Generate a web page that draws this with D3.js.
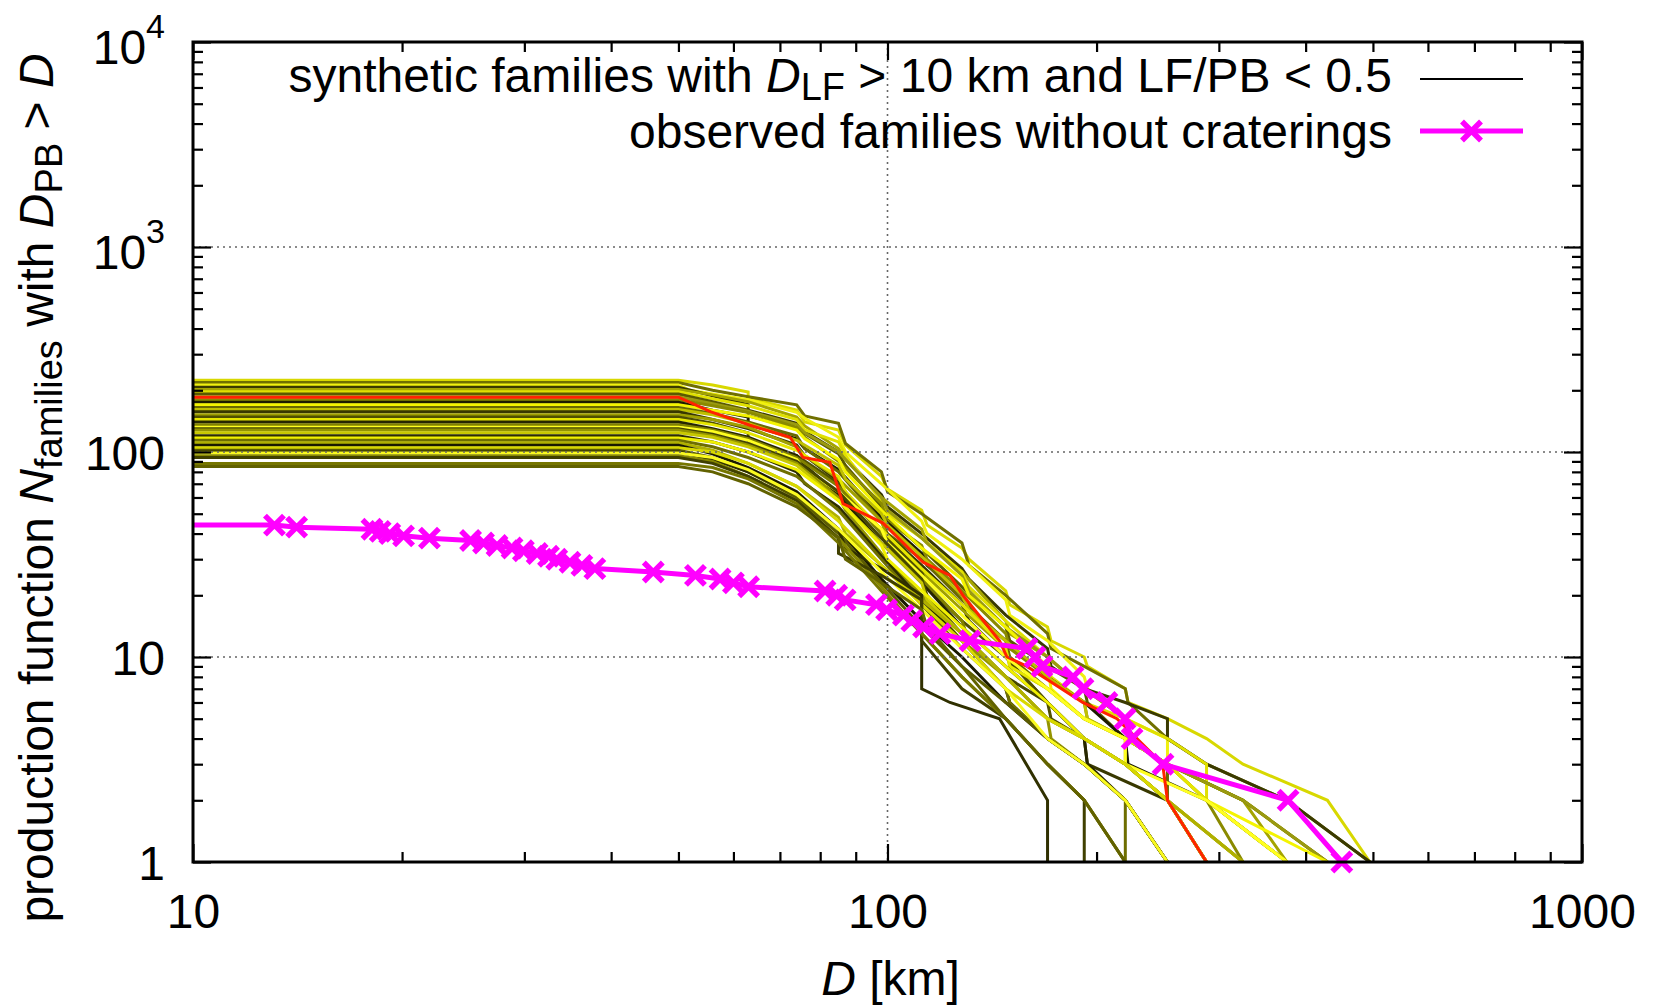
<!DOCTYPE html>
<html>
<head>
<meta charset="utf-8">
<script src="https://cdn.jsdelivr.net/npm/d3@7"></script>
<style>
body { margin: 0; background: #fff; }
text { font-family: "Liberation Sans", Arial, Helvetica, sans-serif; fill: #000; }
</style>
</head>
<body>
<svg id="chart" width="1656" height="1008"></svg>
<script>
// axis setup
const xDomain = [10, 1000];
const yDomain = [1, 10000];
const xTickValues = [10, 100, 1000];
const xTickLabels = ["10", "100", "1000"];
const yTickValues = [1, 10, 100, 1000, 10000];
const yTickLabels = [["1", ""], ["10", ""], ["100", ""], ["10", "3"], ["10", "4"]];
const xGrid = [100];
const yGrid = [10, 100, 1000];

// observed families without craterings: D_PB [km] and cumulative count
const obsD = [13.1, 14.1, 18.1, 18.6, 19.2, 20.1, 21.9, 25.1, 26.2, 27.4, 28.8, 29.9, 31.3, 32.5,
  33.4, 34.9, 36.3, 37.9, 46.0, 52.9, 57.4, 60.0, 63.1, 81.3, 84.5, 86.9, 96.4, 99.7, 105.4,
  108.4, 112.7, 119, 131.5, 158.8, 163.1, 166.9, 185, 191.2, 207, 219.8, 225, 249.3, 377.4, 451];
const obsN = [44, 43, 42, 41, 40, 39, 38, 37, 36, 35, 34, 33, 32, 31, 30, 29, 28, 27, 26, 25, 24,
  23, 22, 21, 20, 19, 18, 17, 16, 15, 14, 13, 12, 11, 10, 9, 8, 7, 6, 5, 4, 3, 2, 1];

// highlighted synthetic family (red)
const redLine = [[10, 185], [50, 185], [55.7, 157], [63.4, 135], [72.4, 118], [75.6, 94], [82.6, 89],
  [86.3, 56], [98.5, 45], [112.5, 29], [123, 25], [128.4, 20], [145, 12], [148.6, 10], [158.8, 9],
  [191, 6], [214, 5], [249, 3], [253, 2], [288, 1]];

// synthetic families with D_LF > 10 km and LF/PB < 0.5
const synthetic = [
  [[10,224],[50,224],[56,212],[63,196],[63,184],[74,160],[76,140],[85,128],[87,108],[98,76],[100,66],[112,52],[114,44],[128,34],[131,30],[148,21],[150,18],[170,14],[172,12],[192,10],[194,9],[220,7],[222,6],[253,5],[288,4],[325,3],[430,2],[495,1]],
  [[10,218],[50,218],[56,200],[63,186],[74,170],[76,150],[85,138],[87,110],[98,80],[100,64],[112,50],[128,36],[131,28],[148,20],[170,13],[172,11],[192,9],[220,7],[222,6],[253,4],[288,3],[376,2],[495,1]],
  [[10,212],[50,212],[52,200],[56,192],[63,180],[74,156],[76,146],[85,118],[87,100],[98,70],[112,46],[114,40],[128,30],[148,19],[150,16],[170,12],[192,8],[194,7],[220,5],[253,4],[253,3],[325,2],[430,1]],
  [[10,207],[50,207],[56,188],[63,170],[63,160],[74,138],[76,126],[85,100],[98,62],[100,54],[112,40],[128,27],[131,24],[148,16],[170,11],[172,9],[192,7],[220,6],[253,5],[253,4],[288,3],[376,2],[495,1]],
  [[10,202],[50,202],[56,190],[63,176],[74,148],[76,134],[85,104],[87,92],[98,60],[112,42],[114,36],[128,26],[148,15],[150,13],[170,10],[192,7],[220,5],[222,4],[253,3],[325,2],[376,1]],
  [[10,197],[50,197],[56,182],[63,168],[74,144],[76,128],[85,112],[87,96],[98,58],[100,50],[112,38],[128,26],[131,22],[148,15],[170,10],[172,8],[192,6],[220,5],[253,4],[288,3],[288,2],[376,1]],
  [[10,192],[50,192],[56,176],[63,160],[63,150],[74,130],[85,98],[87,86],[98,54],[100,48],[112,34],[128,22],[148,14],[150,12],[170,9],[192,7],[194,6],[220,4],[253,3],[325,2],[430,1]],
  [[10,186],[50,186],[56,172],[63,158],[74,136],[76,124],[85,100],[98,60],[100,52],[112,38],[128,25],[131,21],[148,14],[170,10],[192,7],[220,5],[222,4],[253,3],[325,2],[430,1]],
  [[10,180],[50,180],[56,168],[63,156],[74,132],[76,118],[85,90],[98,56],[100,46],[112,35],[114,30],[128,21],[148,13],[150,11],[170,8],[192,6],[194,5],[220,4],[253,3],[288,2],[325,1]],
  [[10,175],[50,175],[56,160],[63,148],[63,136],[74,116],[76,104],[85,82],[98,48],[112,32],[114,28],[128,20],[131,17],[148,12],[170,8],[192,6],[220,4],[222,3],[288,2],[376,1]],
  [[10,170],[50,170],[56,160],[63,150],[74,128],[76,116],[85,92],[87,80],[98,52],[112,34],[128,24],[131,20],[148,14],[170,9],[172,7],[192,5],[220,4],[253,3],[288,2],[430,1]],
  [[10,165],[50,165],[56,154],[63,140],[74,120],[76,104],[85,80],[98,46],[100,40],[112,30],[128,19],[148,12],[150,10],[170,7],[192,5],[220,4],[253,3],[253,2],[325,1]],
  [[10,161],[50,161],[56,152],[63,138],[74,114],[85,86],[87,74],[98,50],[100,44],[112,31],[128,20],[131,17],[148,12],[170,8],[192,6],[194,5],[220,4],[253,3],[288,2],[376,1]],
  [[10,157],[50,157],[56,144],[63,130],[74,108],[76,96],[85,72],[87,62],[98,42],[112,28],[128,18],[131,15],[148,10],[170,6],[192,4],[194,3],[253,2],[288,1]],
  [[10,152],[50,152],[56,144],[63,132],[74,106],[76,96],[85,74],[98,46],[100,38],[112,26],[128,17],[148,11],[150,9],[170,7],[192,5],[220,4],[220,3],[253,2],[325,1]],
  [[10,148],[50,148],[56,138],[63,124],[63,114],[74,96],[85,70],[98,40],[112,26],[114,22],[128,15],[148,10],[170,6],[172,5],[192,4],[220,3],[253,2],[288,1]],
  [[10,144],[50,144],[56,136],[63,124],[74,102],[85,76],[87,64],[98,42],[112,27],[128,18],[148,11],[150,9],[170,7],[192,5],[220,4],[253,3],[288,2],[376,1]],
  [[10,140],[50,140],[56,130],[63,118],[74,96],[76,86],[85,62],[98,36],[112,23],[128,14],[148,9],[170,6],[192,4],[194,3],[220,2],[253,1]],
  [[10,136],[50,136],[56,128],[63,116],[74,94],[85,68],[98,40],[100,34],[112,24],[128,15],[131,12],[148,8],[170,5],[192,4],[220,3],[253,2],[288,1]],
  [[10,132],[50,132],[56,126],[63,114],[74,92],[76,82],[85,64],[98,42],[100,36],[112,25],[128,16],[148,10],[170,7],[192,5],[220,4],[220,3],[288,2],[376,1]],
  [[10,130],[50,130],[56,122],[63,110],[74,90],[85,64],[98,38],[112,24],[114,20],[128,13],[148,8],[170,6],[192,4],[220,3],[253,2],[288,1]],
  [[10,128],[50,128],[56,120],[63,108],[74,88],[85,60],[87,52],[98,32],[112,20],[128,12],[148,8],[170,5],[172,4],[192,3],[220,2],[253,1]],
  [[10,124],[50,124],[56,118],[63,106],[74,86],[85,58],[98,36],[112,23],[114,19],[128,13],[148,8],[170,5],[192,4],[220,3],[253,2],[325,1]],
  [[10,120],[50,120],[56,112],[63,100],[74,80],[76,70],[85,54],[98,31],[112,19],[128,12],[148,7],[150,6],[170,4],[192,3],[220,2],[253,1]],
  [[10,117],[50,117],[56,112],[63,100],[74,82],[85,58],[98,35],[100,30],[112,21],[128,14],[148,9],[170,6],[192,4],[220,3],[253,2],[288,1]],
  [[10,114],[50,114],[56,106],[63,94],[74,76],[85,52],[98,30],[112,18],[128,11],[148,7],[150,6],[170,4],[192,3],[220,2],[220,1]],
  [[10,111],[50,111],[56,102],[63,88],[74,68],[85,48],[87,40],[98,28],[112,19],[128,13],[148,8],[170,5],[192,4],[220,3],[253,2],[325,1]],
  [[10,108],[50,108],[56,98],[63,84],[74,64],[85,42],[98,24],[112,15],[128,10],[148,6],[170,4],[192,3],[220,2],[253,1]],
  [[10,105],[50,105],[56,100],[63,88],[74,68],[85,46],[98,28],[112,18],[128,12],[148,7],[170,5],[192,4],[220,3],[253,2],[288,1]],
  [[10,102],[50,102],[56,94],[63,80],[74,60],[85,40],[98,23],[112,14],[128,9],[148,6],[170,4],[192,3],[220,2],[253,1]],
  [[10,100],[50,100],[56,92],[63,80],[74,62],[85,42],[87,34],[98,27],[112,20],[112,7],[123,6],[145,5],[170,2],[170,1]],
  [[10,99],[50,99],[56,94],[63,82],[74,62],[85,42],[98,26],[112,17],[128,11],[148,7],[170,4],[192,3],[220,2],[253,1]],
  [[10,96],[50,96],[56,90],[63,76],[74,58],[85,38],[98,22],[112,13],[128,8],[148,5],[170,3],[192,2],[220,1]],
  [[10,94],[50,94],[56,88],[63,76],[74,58],[85,38],[85,32],[98,25],[112,19],[112,12],[128,7],[148,5],[170,3],[192,2],[192,1]],
  [[10,88],[50,88],[56,84],[63,74],[74,56],[85,36],[98,21],[112,13],[128,8],[148,5],[170,3],[192,2],[220,1]],
  [[10,85],[50,85],[56,80],[63,70],[74,54],[85,38],[87,30],[98,23],[112,17],[114,14],[128,9],[148,5],[170,3],[192,2],[220,1]]
];
const synthColors = [
  "#d8d800", "#707000", "#f0f010", "#3a3a00", "#a4a400", "#e0e000", "#5a5a00", "#9a9a10",
  "#8a8a00", "#1c1c00", "#f4f400", "#6a6a00", "#c0c000", "#383800", "#a0a000", "#505000",
  "#e6e600", "#262600", "#808000", "#ffff20", "#464600", "#949400", "#c8c800", "#2e2e00",
  "#f0f000", "#6e6e00", "#b0b000", "#1a1a00", "#d8d800", "#5c5c00", "#303000", "#fafa20",
  "#888800", "#404000", "#767600", "#626200"
];

const legendLabels = ["observed families without craterings"];

// plot frame
const plotLeft = 193, plotRight = 1582, plotTop = 42, plotBottom = 862;
const fontSize = 48;
const subSize = 38;

const svg = d3.select("#chart");

const x = d3.scaleLog().domain(xDomain).range([plotLeft, plotRight]);
const y = d3.scaleLog().domain(yDomain).range([plotBottom, plotTop]);

svg.append("defs").append("clipPath").attr("id", "plotClip")
  .append("rect")
  .attr("x", plotLeft).attr("y", plotTop)
  .attr("width", plotRight - plotLeft).attr("height", plotBottom - plotTop);

const line = d3.line()
  .x(d => x(d[0]))
  .y(d => y(d[1]));

const plot = svg.append("g").attr("clip-path", "url(#plotClip)");

// synthetic families
plot.selectAll(".synth")
  .data(synthetic)
  .enter().append("path")
  .attr("class", "synth")
  .attr("d", line)
  .attr("fill", "none")
  .attr("stroke", (d, i) => synthColors[i % synthColors.length])
  .attr("stroke-width", 3)
  .attr("stroke-linejoin", "miter");

plot.append("path")
  .attr("d", line(redLine))
  .attr("fill", "none")
  .attr("stroke", "#ff2200")
  .attr("stroke-width", 3);

// grid (dotted, drawn in front like gnuplot)
const grid = svg.append("g").attr("class", "grid");
grid.selectAll(".gy").data(yGrid).enter().append("line")
  .attr("x1", plotLeft).attr("x2", plotRight)
  .attr("y1", d => y(d)).attr("y2", d => y(d))
  .attr("stroke", "#666").attr("stroke-width", 1.6)
  .attr("stroke-dasharray", "2,4");
grid.selectAll(".gx").data(xGrid).enter().append("line")
  .attr("x1", d => x(d)).attr("x2", d => x(d))
  .attr("y1", plotTop).attr("y2", plotBottom)
  .attr("stroke", "#666").attr("stroke-width", 1.6)
  .attr("stroke-dasharray", "2,4");

// observed families
const obs = obsD.map((d, i) => [d, obsN[i]]);
plot.append("path")
  .attr("d", line([[xDomain[0], obsN[0]]].concat(obs)))
  .attr("fill", "none")
  .attr("stroke", "#ff00ff")
  .attr("stroke-width", 5)
  .attr("stroke-linejoin", "round");

const s = 9.5;
const cross = "M" + (-s) + "," + (-s) + "L" + s + "," + s + "M" + (-s) + "," + s + "L" + s + "," + (-s);
svg.selectAll(".obsPt")
  .data(obs)
  .enter().append("path")
  .attr("class", "obsPt")
  .attr("transform", d => "translate(" + x(d[0]) + "," + y(d[1]) + ")")
  .attr("d", cross)
  .attr("stroke", "#ff00ff")
  .attr("stroke-width", 5.5)
  .attr("fill", "none");

// ticks: major + minor on all four sides, pointing inward
const xMinor = x.ticks().filter(v => xTickValues.indexOf(v) < 0);
const yMinor = y.ticks().filter(v => yTickValues.indexOf(v) < 0);

function styleAxis(g) {
  g.select(".domain").remove();
  g.selectAll(".tick line").attr("stroke", "#000").attr("stroke-width", 2.2);
}

svg.append("g").attr("transform", "translate(0," + plotBottom + ")")
  .call(d3.axisBottom(x).tickValues(xTickValues).tickSizeInner(-18).tickSizeOuter(0).tickPadding(32)
    .tickFormat((d, i) => xTickLabels[i]))
  .call(styleAxis)
  .selectAll("text")
  .attr("font-size", fontSize)
  .attr("font-family", "Liberation Sans, Arial, sans-serif");

svg.append("g").attr("transform", "translate(0," + plotBottom + ")")
  .call(d3.axisBottom(x).tickValues(xMinor).tickSizeInner(-10).tickSizeOuter(0).tickFormat(""))
  .call(styleAxis);
svg.append("g").attr("transform", "translate(0," + plotTop + ")")
  .call(d3.axisTop(x).tickValues(xTickValues).tickSizeInner(-18).tickSizeOuter(0).tickFormat(""))
  .call(styleAxis);
svg.append("g").attr("transform", "translate(0," + plotTop + ")")
  .call(d3.axisTop(x).tickValues(xMinor).tickSizeInner(-10).tickSizeOuter(0).tickFormat(""))
  .call(styleAxis);

const yAxisG = svg.append("g").attr("transform", "translate(" + plotLeft + ",0)")
  .call(d3.axisLeft(y).tickValues(yTickValues).tickSizeInner(-18).tickSizeOuter(0).tickPadding(28)
    .tickFormat(""))
  .call(styleAxis);

yAxisG.selectAll(".tick").each(function(d, i) {
  const t = d3.select(this).select("text")
    .attr("font-size", fontSize)
    .attr("font-family", "Liberation Sans, Arial, sans-serif")
    .attr("dy", yTickLabels[i][1] ? "0.45em" : "0.36em");
  t.text(null);
  t.append("tspan").text(yTickLabels[i][0]);
  if (yTickLabels[i][1]) {
    t.append("tspan").attr("dy", -26).attr("font-size", 34).text(yTickLabels[i][1]);
  }
});

svg.append("g").attr("transform", "translate(" + plotLeft + ",0)")
  .call(d3.axisLeft(y).tickValues(yMinor).tickSizeInner(-10).tickSizeOuter(0).tickFormat(""))
  .call(styleAxis);
svg.append("g").attr("transform", "translate(" + plotRight + ",0)")
  .call(d3.axisRight(y).tickValues(yTickValues).tickSizeInner(-18).tickSizeOuter(0).tickFormat(""))
  .call(styleAxis);
svg.append("g").attr("transform", "translate(" + plotRight + ",0)")
  .call(d3.axisRight(y).tickValues(yMinor).tickSizeInner(-10).tickSizeOuter(0).tickFormat(""))
  .call(styleAxis);

// frame
svg.append("rect")
  .attr("x", plotLeft).attr("y", plotTop)
  .attr("width", plotRight - plotLeft).attr("height", plotBottom - plotTop)
  .attr("fill", "none").attr("stroke", "#000").attr("stroke-width", 3);

// axis labels
const xl = svg.append("text")
  .attr("x", (plotLeft + plotRight) / 2 + 3).attr("y", 995)
  .attr("text-anchor", "middle").attr("font-size", fontSize);
xl.append("tspan").attr("font-style", "italic").text("D");
xl.append("tspan").text(" [km]");

const yl = svg.append("text")
  .attr("transform", "translate(53,488) rotate(-90)")
  .attr("text-anchor", "middle").attr("font-size", fontSize);
yl.append("tspan").text("production function ");
yl.append("tspan").attr("font-style", "italic").text("N");
yl.append("tspan").attr("font-size", subSize).attr("dy", 9).text("families");
yl.append("tspan").attr("dy", -9).text(" with ");
yl.append("tspan").attr("font-style", "italic").text("D");
yl.append("tspan").attr("font-size", subSize).attr("dy", 9).text("PB");
yl.append("tspan").attr("dy", -9).text(" > ");
yl.append("tspan").attr("font-style", "italic").text("D");

// legend
const legX = 1392, sampleX1 = 1420, sampleX2 = 1523;
const l1 = svg.append("text")
  .attr("x", legX).attr("y", 92)
  .attr("text-anchor", "end").attr("font-size", fontSize);
l1.append("tspan").text("synthetic families with ");
l1.append("tspan").attr("font-style", "italic").text("D");
l1.append("tspan").attr("font-size", subSize).attr("dy", 8).text("LF");
l1.append("tspan").attr("dy", -8).text(" > 10 km and LF/PB < 0.5");
svg.append("line")
  .attr("x1", sampleX1).attr("x2", sampleX2).attr("y1", 79).attr("y2", 79)
  .attr("stroke", "#000").attr("stroke-width", 2.2);

svg.append("text")
  .attr("x", legX).attr("y", 148)
  .attr("text-anchor", "end").attr("font-size", fontSize)
  .text(legendLabels[0]);
svg.append("line")
  .attr("x1", sampleX1).attr("x2", sampleX2).attr("y1", 131).attr("y2", 131)
  .attr("stroke", "#ff00ff").attr("stroke-width", 5);
svg.append("path")
  .attr("transform", "translate(" + ((sampleX1 + sampleX2) / 2) + ",131)")
  .attr("d", cross)
  .attr("stroke", "#ff00ff").attr("stroke-width", 5.5).attr("fill", "none");
</script>
</body>
</html>
